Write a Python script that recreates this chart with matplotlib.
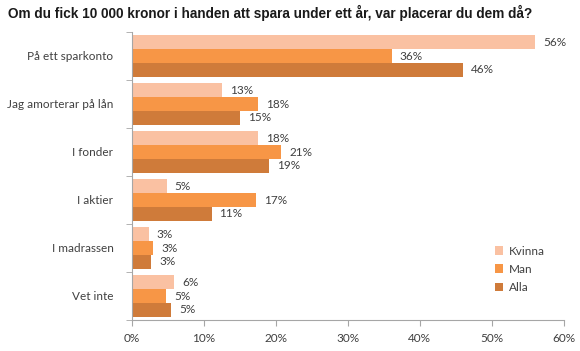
import numpy as np
import matplotlib
matplotlib.use("Agg")
import matplotlib.pyplot as plt
from matplotlib.ticker import FixedLocator, PercentFormatter

# data
categories = ["På ett sparkonto", "Jag amorterar på lån", "I fonder",
              "I aktier", "I madrassen", "Vet inte"]
series = ["Kvinna", "Man", "Alla"]
kvinna = [56.0, 12.6, 17.5, 4.9, 2.4, 5.9]
man = [36.1, 17.5, 20.8, 17.3, 3.0, 4.8]
alla = [46.0, 15.1, 19.1, 11.1, 2.75, 5.5]
kvinna_lbl = ["56%", "13%", "18%", "5%", "3%", "6%"]
man_lbl = ["36%", "18%", "21%", "17%", "3%", "5%"]
alla_lbl = ["46%", "15%", "19%", "11%", "3%", "5%"]
x_ticks = [0, 10, 20, 30, 40, 50, 60]

colors = ["#FAC1A2", "#F79646", "#CF7B3A"]
title = "Om du fick 10 000 kronor i handen att spara under ett år, var placerar du dem då?"

plt.rcParams["font.family"] = ["Lato", "DejaVu Sans"]
text_col = "#404040"

fig = plt.figure(figsize=(5.8, 3.51), dpi=100)
ax = fig.add_axes([131.5 / 580, 1 - 320 / 351, (564 - 131.5) / 580, 288 / 351])

y = np.arange(len(categories))
h = 0.285
for i, (vals, lbls, name) in enumerate(zip([kvinna, man, alla],
                                            [kvinna_lbl, man_lbl, alla_lbl], series)):
    pos = y + (i - 1) * h
    bars = ax.barh(pos, vals, height=h, color=colors[i], label=name)
    for b, v, t in zip(bars, vals, lbls):
        ax.text(v + 1.1, b.get_y() + h / 2, t, va="center", ha="left",
                fontsize=8.5, color=text_col)

ax.set_xlim(0, 60)
ax.set_ylim(len(categories) - 0.5, -0.5)
ax.xaxis.set_major_locator(FixedLocator(x_ticks))
ax.xaxis.set_major_formatter(PercentFormatter(decimals=0))
ax.set_yticks(y)
ax.set_yticklabels(categories)
ax.yaxis.set_minor_locator(FixedLocator(np.arange(-0.5, len(categories), 1.0)))
ax.tick_params(axis="y", which="major", length=0, pad=13, labelsize=8.5, labelcolor=text_col)
ax.tick_params(axis="y", which="minor", length=4, color="#A6A6A6")
ax.tick_params(axis="x", length=4, color="#A6A6A6", labelsize=8.5, labelcolor=text_col, pad=5)

for s in ["top", "right"]:
    ax.spines[s].set_visible(False)
for s in ["left", "bottom"]:
    ax.spines[s].set_color("#A6A6A6")
    ax.spines[s].set_linewidth(0.8)

leg = ax.legend(loc="upper left", bbox_to_anchor=(0.815, 0.295), frameon=False,
                handlelength=0.7, handleheight=0.7, handletextpad=0.5,
                labelspacing=0.6, fontsize=8.5)
for t in leg.get_texts():
    t.set_color(text_col)

fig.text(8 / 580, 1 - 13 / 351, title, fontsize=9.8, fontweight="bold",
         family="Liberation Sans", va="center", ha="left", color="#1a1a1a")

fig.savefig("out.png", dpi=100)
